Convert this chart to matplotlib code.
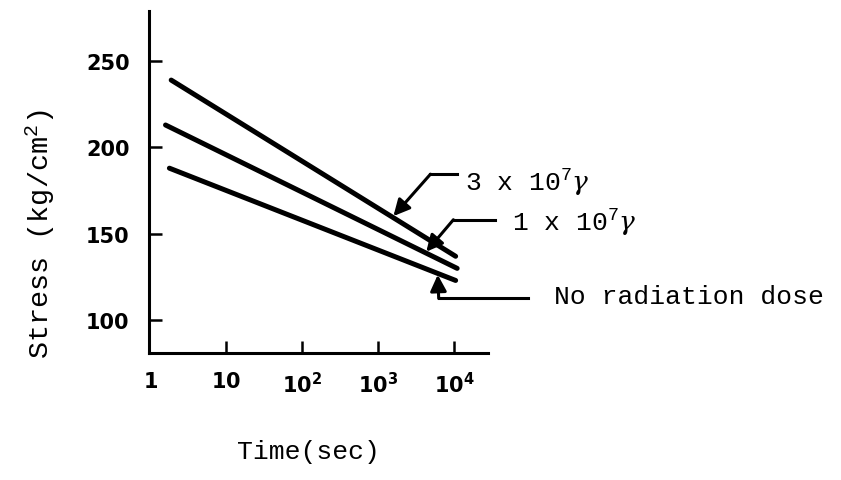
import numpy as np
import matplotlib.pyplot as plt
from matplotlib.lines import Line2D

plt.rcParams['mathtext.fontset'] = 'custom'
plt.rcParams['mathtext.rm'] = 'Liberation Mono'
plt.rcParams['mathtext.it'] = 'DejaVu Serif:italic'
plt.rcParams['mathtext.bf'] = 'DejaVu Sans:bold'
plt.rcParams['mathtext.default'] = 'rm'

# Stress relaxation lines (two end points each, log time)
time_3e7 = [1.9, 10500]
stress_3e7 = [239, 137]
time_1e7 = [1.6, 11000]
stress_1e7 = [213, 130]
time_0 = [1.8, 10500]
stress_0 = [188, 123]

dose_labels = [r'3 x 10$^7\mathit{\gamma}$', r'1 x 10$^7\mathit{\gamma}$', 'No radiation dose']
# where each leader arrow touches its line
arrow_times = [1550, 4200, 6100]

x_ticks = [1, 10, 100, 1000, 10000]
x_ticklabels = [r'$\mathbf{1}$', r'$\mathbf{10}$', r'$\mathbf{10^{2}}$',
                r'$\mathbf{10^{3}}$', r'$\mathbf{10^{4}}$']
y_ticks = [100, 150, 200, 250]

mono = 'Liberation Mono'

fig = plt.figure(figsize=(8.41, 4.81), dpi=100)
ax = fig.add_axes([149 / 841, 1 - 354 / 481, (488 - 149) / 841, (354 - 12) / 481])

series = [(time_3e7, stress_3e7), (time_1e7, stress_1e7), (time_0, stress_0)]
for xs, ys in series:
    ax.plot(xs, ys, color='black', lw=3.6, solid_capstyle='round')

ax.set_xscale('log')
ax.set_xlim(0.97, 28000)
ax.set_ylim(81, 279)

for s in ['top', 'right']:
    ax.spines[s].set_visible(False)
for s in ['left', 'bottom']:
    ax.spines[s].set_linewidth(2.2)

ax.set_xticks(x_ticks)
ax.set_xticklabels(x_ticklabels)
ax.xaxis.set_minor_locator(plt.NullLocator())
# no tick mark at 1, only its label
ax.xaxis.get_major_ticks()[0].tick1line.set_visible(False)
ax.set_yticks(y_ticks)
ax.set_yticklabels([str(v) for v in y_ticks])
ax.tick_params(direction='in', length=9, width=1.8, labelsize=15)
ax.tick_params(axis='x', pad=13)
ax.tick_params(axis='y', pad=14)
for lab in ax.get_yticklabels():
    lab.set_fontweight('bold')

fig.text(40 / 841, 1 - 234 / 481, 'Stress (kg/cm$^2$)', rotation=90, ha='center',
         va='center', fontsize=20.5, family=mono)
fig.text(308 / 841, 1 - 452 / 481, 'Time(sec)', ha='center', va='center',
         fontsize=19, family=mono)

inv = fig.transFigure.inverted()


def leader(k, bend, end, text_off):
    xs, ys = series[k]
    tx = arrow_times[k]
    ty = np.interp(np.log10(tx), np.log10(xs), ys)
    tip = ax.transData.transform((tx, ty))
    b = inv.transform(tip + np.array([bend[0], -bend[1]]))
    e = inv.transform(tip + np.array([end[0], -end[1]]))
    fig.add_artist(Line2D([b[0], e[0]], [b[1], e[1]], color='black', lw=2.2,
                          transform=fig.transFigure))
    ax.annotate('', xy=(tx, ty), xytext=b, textcoords='figure fraction',
                arrowprops=dict(arrowstyle='-|>,head_length=0.7,head_width=0.35',
                                color='black', lw=2.2, shrinkA=0, shrinkB=1,
                                mutation_scale=14))
    t = inv.transform(tip + np.array([text_off[0], -text_off[1]]))
    fig.text(t[0], t[1], dose_labels[k], ha='left', va='center', fontsize=19, family=mono)


leader(0, (38, -43), (65, -43), (73, -36))
leader(1, (28, -33), (70, -33), (87, -31))
leader(2, (1, 25), (90, 25), (116, 23))

fig.savefig('out.png', dpi=100)
